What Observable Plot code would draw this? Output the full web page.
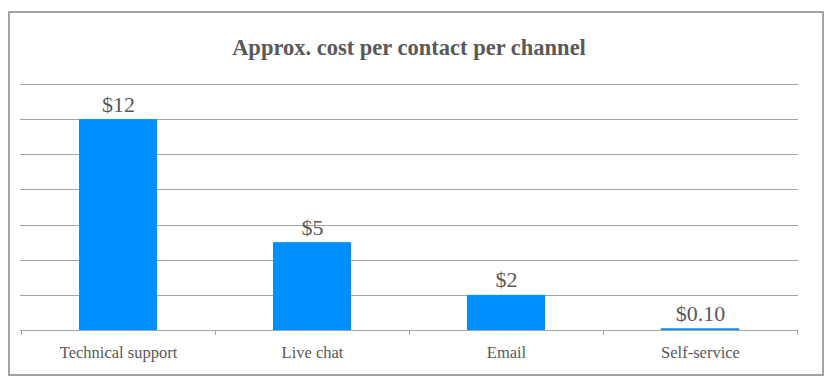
<!DOCTYPE html>
<html>
<head>
<meta charset="utf-8">
<script src="https://cdn.jsdelivr.net/npm/d3@7"></script>
<script src="https://cdn.jsdelivr.net/npm/@observablehq/plot@0.6"></script>
<style>
  html, body { margin: 0; padding: 0; background: #fff; }
  body { width: 835px; height: 385px; position: relative; overflow: hidden; font-family: "Liberation Serif", "Times New Roman", serif; }
  #frame { position: absolute; left: 8px; top: 11px; width: 816px; height: 365px; box-sizing: border-box; border: 2px solid #a3a3a3; }
  #title { position: absolute; left: 20px; width: 778px; top: 35px; text-align: center; font-weight: bold; font-size: 22.5px; color: #595959; font-family: "Liberation Serif", serif; }
  #chart { position: absolute; left: 0; top: 0; }
  #chart svg, #chart svg text { font-family: "Liberation Serif", serif !important; }
</style>
</head>
<body>
<div id="frame"></div>
<div id="title">Approx. cost per contact per channel</div>
<div id="chart"></div>
<script>
const categories = ["Technical support", "Live chat", "Email", "Self-service"];
const costs = [12, 5, 2, 0.1];
const costLabels = ["$12", "$5", "$2", "$0.10"];
const gridValues = [0, 2, 4, 6, 8, 10, 12, 14];

const data = categories.map((c, i) => ({category: c, cost: costs[i], label: costLabels[i]}));

const boundaryTicks = (index, scales, values, dimensions) => {
  const g = d3.create("svg:g");
  const x = scales.x;
  const bw = typeof x.bandwidth === "function" ? x.bandwidth() : x.bandwidth;
  const xs = categories.map(c => x(c));
  const step = xs[1] - xs[0];
  const pad = (step - bw) / 2;
  const y0 = scales.y(0);
  const positions = xs.map(v => v - pad).concat([xs[xs.length - 1] + bw + pad]);
  for (const p of positions) {
    g.append("line")
      .attr("x1", Math.round(p) + 0.5).attr("x2", Math.round(p) + 0.5)
      .attr("y1", y0).attr("y2", y0 + 5)
      .attr("stroke", "#a3a3a3").attr("stroke-width", 1);
  }
  return g.node();
};

const chart = Plot.plot({
  width: 835,
  height: 385,
  marginLeft: 20,
  marginRight: 37,
  marginTop: 84,
  marginBottom: 55,
  style: {background: "transparent", color: "#595959"},
  x: {domain: categories, paddingInner: 0.6, paddingOuter: 0.3, label: null},
  y: {domain: [0, 14], axis: null},
  marks: [
    Plot.ruleY(gridValues, {stroke: "#a3a3a3", strokeWidth: 1, strokeOpacity: 1, shapeRendering: "crispEdges"}),
    Plot.barY(data, {x: "category", y: "cost", fill: "#008fff"}),
    Plot.text(data, {x: "category", y: "cost", text: "label", dy: -8, lineAnchor: "bottom", fontSize: 22, fill: "#595959"}),
    boundaryTicks,
    Plot.axisX({tickSize: 0, tickPadding: 16, fontSize: 16.5, fill: "#595959", label: null})
  ]
});
chart.querySelectorAll('[aria-label="x-axis tick label"] text').forEach(t => t.setAttribute("font-size", "16.5"));
document.getElementById("chart").appendChild(chart);
</script>
</body>
</html>
